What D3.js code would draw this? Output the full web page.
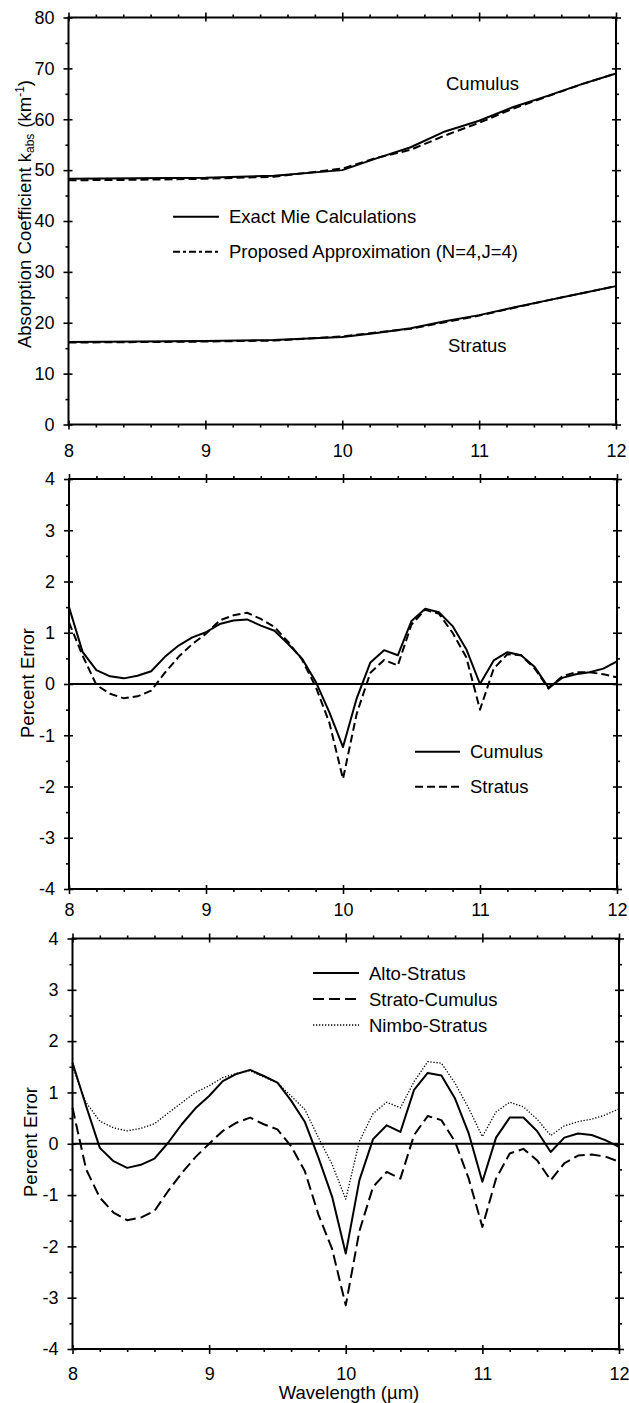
<!DOCTYPE html>
<html>
<head>
<meta charset="utf-8">
<script src="https://cdn.jsdelivr.net/npm/d3@7"></script>
<style>
  body { margin: 0; background: #fff; }
  svg { display: block; }
  text { font-family: "Liberation Sans", Arial, Helvetica, sans-serif; fill: #000; }
</style>
</head>
<body>
<div id="chart"></div>
<script>
// top panel: absorption coefficient
var wavelengthTop = [8, 8.5, 9, 9.5, 10, 10.25, 10.5, 10.75, 11, 11.25, 11.5, 11.75, 12];
var cumulusExact  = [48.3, 48.4, 48.5, 48.9, 50.0, 52.3, 54.5, 57.6, 59.7, 62.4, 64.6, 66.9, 69.0];
var cumulusApprox = [48.0, 48.1, 48.3, 48.7, 50.3, 52.4, 54.0, 56.8, 59.3, 62.1, 64.5, 66.9, 69.0];
var stratusExact  = [16.2, 16.3, 16.4, 16.6, 17.2, 18.0, 18.9, 20.3, 21.5, 23.0, 24.4, 25.8, 27.2];
var stratusApprox = [16.1, 16.2, 16.3, 16.5, 17.3, 18.1, 18.8, 20.1, 21.4, 22.9, 24.4, 25.8, 27.2];

// percent error panels, 0.1 um steps
var wavelength = [8.0, 8.1, 8.2, 8.3, 8.4, 8.5, 8.6, 8.7, 8.8, 8.9,
                  9.0, 9.1, 9.2, 9.3, 9.4, 9.5, 9.6, 9.7, 9.8, 9.9,
                  10.0, 10.1, 10.2, 10.3, 10.4, 10.5, 10.6, 10.7, 10.8, 10.9,
                  11.0, 11.1, 11.2, 11.3, 11.4, 11.5, 11.6, 11.7, 11.8, 11.9, 12.0];

var errCumulus = [1.50, 0.62, 0.27, 0.15, 0.11, 0.16, 0.25, 0.53, 0.75, 0.91,
                  1.01, 1.17, 1.24, 1.26, 1.14, 1.04, 0.78, 0.50, 0.05, -0.55,
                  -1.23, -0.28, 0.42, 0.66, 0.56, 1.23, 1.47, 1.40, 1.13, 0.68,
                  0.00, 0.46, 0.62, 0.56, 0.33, -0.07, 0.12, 0.19, 0.23, 0.30, 0.44];
var errStratus = [1.20, 0.55, -0.02, -0.19, -0.28, -0.24, -0.13, 0.22, 0.53, 0.78,
                  0.98, 1.24, 1.34, 1.39, 1.27, 1.11, 0.82, 0.48, -0.05, -0.75,
                  -1.85, -0.58, 0.22, 0.47, 0.36, 1.16, 1.45, 1.37, 1.00, 0.52,
                  -0.50, 0.30, 0.58, 0.56, 0.30, -0.09, 0.15, 0.23, 0.23, 0.19, 0.13];

var errAlto   = [1.58, 0.73, -0.08, -0.34, -0.47, -0.41, -0.29, 0.02, 0.38, 0.69,
                 0.93, 1.22, 1.36, 1.44, 1.32, 1.19, 0.84, 0.43, -0.27, -1.03,
                 -2.14, -0.71, 0.09, 0.36, 0.23, 1.05, 1.38, 1.33, 0.88, 0.20,
                 -0.74, 0.12, 0.51, 0.51, 0.25, -0.16, 0.12, 0.20, 0.17, 0.07, -0.06];
var errStrato = [0.70, -0.50, -1.05, -1.34, -1.49, -1.44, -1.31, -0.92, -0.57, -0.26,
                 0.00, 0.25, 0.41, 0.51, 0.38, 0.28, -0.05, -0.53, -1.38, -2.05,
                 -3.15, -1.70, -0.84, -0.55, -0.68, 0.17, 0.54, 0.46, 0.04, -0.68,
                 -1.62, -0.68, -0.19, -0.10, -0.32, -0.71, -0.38, -0.23, -0.21, -0.25, -0.35];
var errNimbo  = [1.50, 0.80, 0.44, 0.31, 0.25, 0.30, 0.39, 0.60, 0.80, 1.00,
                 1.13, 1.29, 1.37, 1.42, 1.30, 1.19, 0.93, 0.67, 0.12, -0.40,
                 -1.08, 0.05, 0.59, 0.81, 0.70, 1.21, 1.60, 1.57, 1.18, 0.69,
                 0.14, 0.62, 0.81, 0.72, 0.48, 0.16, 0.35, 0.43, 0.48, 0.56, 0.68];

var xMajor = [8, 9, 10, 11, 12];
var xMinor = [8.2, 8.4, 8.6, 8.8, 9.2, 9.4, 9.6, 9.8, 10.2, 10.4, 10.6, 10.8, 11.2, 11.4, 11.6, 11.8];
var kMajor = [0, 10, 20, 30, 40, 50, 60, 70, 80];
var kMinor = [5, 15, 25, 35, 45, 55, 65, 75];
var eMajor = [-4, -3, -2, -1, 0, 1, 2, 3, 4];
var eMinor = [-3.5, -2.5, -1.5, -0.5, 0.5, 1.5, 2.5, 3.5];

var W = 629, H = 1403;
var FONT = '"Liberation Sans", Arial, Helvetica, sans-serif';

var svg = d3.select("#chart").append("svg")
  .attr("width", W)
  .attr("height", H);

function zip(xs, ys) {
  return xs.map(function(x, i) { return [x, ys[i]]; });
}

// plain hyphen for negatives, like the original
var fmt = function(d) { return String(d); };

// one framed panel with ticks on all four sides
function panel(p) {
  var x = d3.scaleLinear().domain([8, 12]).range([p.left, p.right]);
  var y = d3.scaleLinear().domain(p.yDomain).range([p.bottom, p.top]);
  var g = svg.append("g");

  function ax(axis, tx, ty) {
    var a = g.append("g").attr("transform", "translate(" + tx + "," + ty + ")").call(axis);
    a.select(".domain").remove();
    a.selectAll("line").attr("stroke", "#000").attr("stroke-width", 1.6);
    a.attr("font-family", FONT).attr("font-size", 18);
    return a;
  }
  var none = function() { return ""; };

  // bottom
  ax(d3.axisBottom(x).tickValues(xMajor).tickSize(5).tickPadding(p.xPad).tickFormat(fmt), 0, p.bottom);
  ax(d3.axisTop(x).tickValues(xMajor).tickSize(4).tickFormat(none), 0, p.bottom);
  ax(d3.axisBottom(x).tickValues(xMinor).tickSize(3).tickFormat(none), 0, p.bottom);
  // top
  ax(d3.axisTop(x).tickValues(xMajor).tickSize(5).tickFormat(none), 0, p.top);
  ax(d3.axisBottom(x).tickValues(xMajor).tickSize(4).tickFormat(none), 0, p.top);
  ax(d3.axisTop(x).tickValues(xMinor).tickSize(3).tickFormat(none), 0, p.top);
  // left
  ax(d3.axisLeft(y).tickValues(p.yMajor).tickSize(5).tickPadding(9).tickFormat(fmt), p.left, 0);
  ax(d3.axisRight(y).tickValues(p.yMajor).tickSize(4).tickFormat(none), p.left, 0);
  ax(d3.axisLeft(y).tickValues(p.yMinor).tickSize(3).tickFormat(none), p.left, 0);
  // right
  ax(d3.axisRight(y).tickValues(p.yMajor).tickSize(5).tickFormat(none), p.right, 0);
  ax(d3.axisLeft(y).tickValues(p.yMajor).tickSize(4).tickFormat(none), p.right, 0);
  ax(d3.axisRight(y).tickValues(p.yMinor).tickSize(3).tickFormat(none), p.right, 0);

  g.append("rect")
    .attr("x", p.left).attr("y", p.top)
    .attr("width", p.right - p.left).attr("height", p.bottom - p.top)
    .attr("fill", "none").attr("stroke", "#000").attr("stroke-width", 2);

  if (p.zeroLine) {
    g.append("line")
      .attr("x1", p.left).attr("x2", p.right)
      .attr("y1", y(0)).attr("y2", y(0))
      .attr("stroke", "#000").attr("stroke-width", 2);
  }

  var line = d3.line()
    .x(function(d) { return x(d[0]); })
    .y(function(d) { return y(d[1]); });

  p.series.forEach(function(s) {
    g.append("path")
      .datum(zip(s.x, s.y))
      .attr("d", line)
      .attr("fill", "none")
      .attr("stroke", "#000")
      .attr("stroke-width", s.width || 2)
      .attr("stroke-linejoin", "round")
      .attr("stroke-dasharray", s.dash || null);
  });

  // legend
  if (p.legend) {
    var lg = g.append("g");
    p.legend.items.forEach(function(it, i) {
      var ly = p.legend.y + i * p.legend.step;
      lg.append("line")
        .attr("x1", p.legend.x).attr("x2", p.legend.x + p.legend.len)
        .attr("y1", ly).attr("y2", ly)
        .attr("stroke", "#000")
        .attr("stroke-width", it.width || 2)
        .attr("stroke-dasharray", it.dash || null);
      lg.append("text")
        .attr("x", p.legend.x + p.legend.len + 10)
        .attr("y", ly + 6.5)
        .attr("font-size", 18.5)
        .text(it.label);
    });
  }

  return {x: x, y: y, g: g};
}

// ---- top panel
var topPanel = panel({
  left: 68.5, right: 616, top: 17.5, bottom: 424.5, xPad: 14.5,
  yDomain: [0, 80], yMajor: kMajor, yMinor: kMinor,
  series: [
    {x: wavelengthTop, y: cumulusExact},
    {x: wavelengthTop, y: cumulusApprox, dash: "8,4"},
    {x: wavelengthTop, y: stratusExact},
    {x: wavelengthTop, y: stratusApprox, dash: "8,4"}
  ],
  legend: {x: 173, y: 216.7, step: 35, len: 46, items: [
    {label: "Exact Mie Calculations"},
    {label: "Proposed Approximation (N=4,J=4)", dash: "7,3,3,3"}
  ]}
});

topPanel.g.append("text").attr("x", 446).attr("y", 90).attr("font-size", 18.5).text("Cumulus");
topPanel.g.append("text").attr("x", 448).attr("y", 352).attr("font-size", 18.5).text("Stratus");

var kLabel = svg.append("text")
  .attr("transform", "translate(31,214) rotate(-90)")
  .attr("text-anchor", "middle")
  .attr("font-size", 18.5);
kLabel.append("tspan").text("Absorption Coefficient  k");
kLabel.append("tspan").attr("font-size", 12).attr("baseline-shift", "-25%").text("abs");
kLabel.append("tspan").attr("dx", 6).text("(km");
kLabel.append("tspan").attr("font-size", 12).attr("baseline-shift", "55%").text("-1");
kLabel.append("tspan").text(")");

// ---- middle panel
panel({
  left: 69, right: 617, top: 479, bottom: 889, xPad: 9,
  yDomain: [-4, 4], yMajor: eMajor, yMinor: eMinor, zeroLine: true,
  series: [
    {x: wavelength, y: errCumulus},
    {x: wavelength, y: errStratus, dash: "8,4"}
  ],
  legend: {x: 415, y: 751.7, step: 35, len: 45, items: [
    {label: "Cumulus"},
    {label: "Stratus", dash: "8,4"}
  ]}
});

svg.append("text")
  .attr("transform", "translate(34,683) rotate(-90)")
  .attr("text-anchor", "middle")
  .attr("font-size", 18.5)
  .text("Percent Error");

// ---- bottom panel
panel({
  left: 72.5, right: 619, top: 938.5, bottom: 1349, xPad: 13,
  yDomain: [-4, 4], yMajor: eMajor, yMinor: eMinor, zeroLine: true,
  series: [
    {x: wavelength, y: errAlto},
    {x: wavelength, y: errStrato, dash: "11,5"},
    {x: wavelength, y: errNimbo, dash: "1.3,1.7", width: 1.3}
  ],
  legend: {x: 313, y: 973, step: 26, len: 46, items: [
    {label: "Alto-Stratus"},
    {label: "Strato-Cumulus", dash: "11,5"},
    {label: "Nimbo-Stratus", dash: "1.3,1.7", width: 1.3}
  ]}
});

svg.append("text")
  .attr("transform", "translate(37,1142) rotate(-90)")
  .attr("text-anchor", "middle")
  .attr("font-size", 18.5)
  .text("Percent Error");

svg.append("text")
  .attr("x", 349)
  .attr("y", 1399)
  .attr("text-anchor", "middle")
  .attr("font-size", 18.5)
  .text("Wavelength (µm)");
</script>
</body>
</html>
